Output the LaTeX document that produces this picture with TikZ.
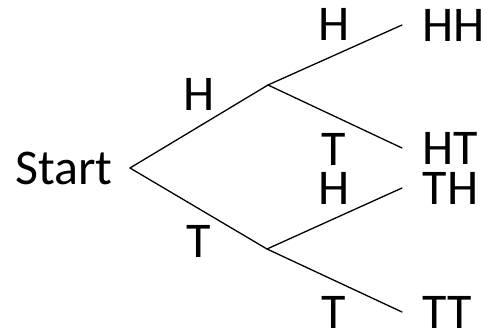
\documentclass[tikz,border=0pt]{standalone}
\usepackage{fontspec}
\setmainfont{Carlito}
\usetikzlibrary{positioning}
\tikzset{
  every picture/.style={line width=1.3pt, font=\fontsize{50}{60}\selectfont},
  toss/.style={inner sep=0pt},
  leaf/.style={toss},
  branch/.style={line cap=round},
}
\begin{document}
\begin{tikzpicture}[x=1pt, y=-1pt]
  \useasboundingbox (0,0) rectangle (481,331);
  % where the tree splits
  \coordinate (root) at (130,168);
  \coordinate (h) at (268,85);
  \coordinate (t) at (267,249);
  % open ends of the second toss
  \coordinate (hh) at (402,25);
  \coordinate (ht) at (402,148);
  \coordinate (th) at (402,188);
  \coordinate (tt) at (402,312);
  \node[toss, left=17pt of root] (start) {Start};
  \foreach \c/\s in {hh/HH,ht/HT,th/TH,tt/TT} { \node[leaf, right=20pt of \c] (l\c) {\s}; }
  \draw[branch] (root) -- (h);
  \draw[branch] (root) -- (t);
  \foreach \c in {hh,ht} { \draw[branch] (h) -- (\c); }
  \foreach \c in {th,tt} { \draw[branch] (t) -- (\c); }
  % outcome of each toss
  \node[toss] (fh) at (199,94) {H};
  \node[toss] (ft) at (199,241) {T};
  \foreach \c/\s/\y in {hh/H/24,ht/T/149,th/H/188,tt/T/312} { \node[toss] (s\c) at (334,\y) {\s}; }
\end{tikzpicture}
\end{document}
